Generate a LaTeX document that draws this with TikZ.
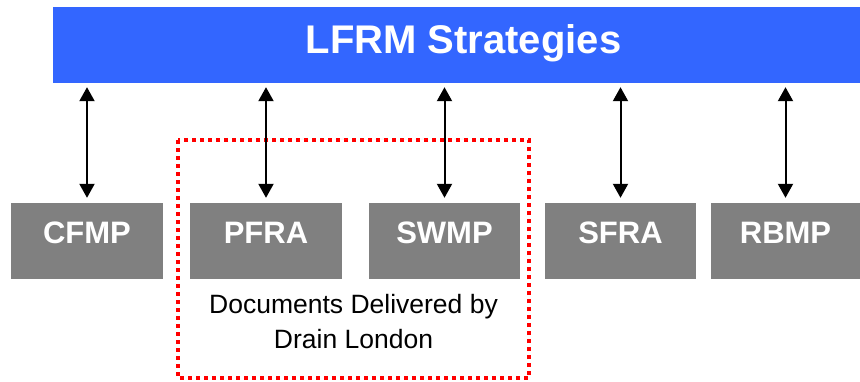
\documentclass[tikz,border=0pt]{standalone}
\usepackage{fontspec}
\setmainfont{Liberation Sans}
\usetikzlibrary{arrows.meta}
\definecolor{bannerblue}{HTML}{3366FF}
\definecolor{boxgray}{HTML}{808080}
\begin{document}
\begin{tikzpicture}[x=1pt,y=-1pt,
  banner/.style={fill=bannerblue, inner sep=0pt, minimum width=807pt, minimum height=76pt},
  doc/.style={fill=boxgray, inner sep=0pt, minimum height=76pt, text height=40pt, text depth=36pt, text=white, font=\fontsize{31}{31}\selectfont\bfseries},
  link/.style={{Triangle[width=15pt,length=14pt]}-{Triangle[width=15pt,length=14pt]}, line width=2pt, shorten <=5pt, shorten >=4pt},
  group/.style={draw=red, line width=3.5pt, dash pattern=on 4pt off 4pt},
  caption/.style={anchor=base, inner sep=0pt, font=\fontsize{26.5}{26.5}\selectfont},
]
\useasboundingbox (0,0) rectangle (860,381);
\node[banner] (top) at (456.5,45) {};
\node[anchor=base, inner sep=0pt, text=white, font=\fontsize{40}{40}\selectfont\bfseries] (title) at (463.5,53) {LFRM Strategies};

\node[doc, minimum width=152pt] (cfmp) at (87,241) {CFMP};
\node[doc, minimum width=152pt] (pfra) at (266,241) {PFRA};
\node[doc, minimum width=151pt] (swmp) at (444.5,241) {SWMP};
\node[doc, minimum width=151pt] (sfra) at (620.5,241) {SFRA};
\node[doc, minimum width=149pt] (rbmp) at (785.5,241) {RBMP};

\coordinate (g1) at (178,140);
\coordinate (g2) at (529,378);
\draw[group] (g1) rectangle (g2);

\foreach \b in {cfmp,pfra,swmp,sfra,rbmp}
  \draw[link] (\b.north) -- (\b.north |- top.south);

\node[caption] (cap1) at (353.5,313) {Documents Delivered by};
\node[caption] (cap2) at (353.5,348) {Drain London};
\end{tikzpicture}
\end{document}
